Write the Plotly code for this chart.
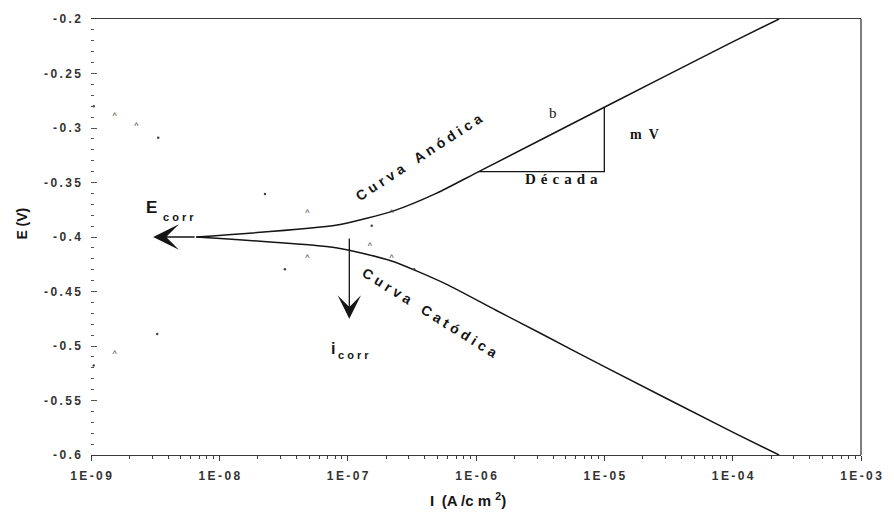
import math
import plotly.graph_objects as go

# Polarization branches: current density (A/cm²) and potential (V)
anodic_i = [6.6e-9, 8.3e-8, 2.28e-7, 4.9e-7, 1.05e-6, 1.0e-5, 1.0e-4, 2.3e-4]
anodic_e = [-0.400, -0.389, -0.376, -0.360, -0.340, -0.281, -0.221, -0.200]

cathodic_i = [6.6e-9, 8.3e-8, 2.2e-7, 5.8e-7, 1.42e-6, 3.26e-6, 1.0e-5, 1.0e-4, 2.3e-4]
cathodic_e = [-0.400, -0.410, -0.422, -0.443, -0.467, -0.489, -0.519, -0.579, -0.600]

# Scattered raw readings near the corrosion potential
caret_i = [1.53e-9, 2.26e-9, 1.53e-9, 4.86e-8, 2.2e-7, 4.86e-8, 1.49e-7, 2.2e-7]
caret_e = [-0.290, -0.299, -0.508, -0.379, -0.379, -0.4195, -0.4086, -0.4195]
dot_i = [1.05e-9, 3.34e-9, 3.28e-9, 1.05e-9, 2.27e-8, 1.54e-7, 3.24e-8, 3.3e-7]
dot_e = [-0.280, -0.309, -0.489, -0.518, -0.3605, -0.3896, -0.4295, -0.4295]

# Tafel slope construction: one decade of current vs. mV rise
tafel_i = [1.05e-6, 1.0e-5, 1.0e-5]
tafel_e = [-0.340, -0.340, -0.281]

# Corrosion potential / current markers
e_corr = -0.400
e_corr_from, e_corr_to = 6.6e-9, 3.05e-9
i_corr = 1.03e-7
i_corr_from, i_corr_to = -0.400, -0.475

# Axis ticks
x_tickvals = [1e-9, 1e-8, 1e-7, 1e-6, 1e-5, 1e-4, 1e-3]
x_ticklabels = ["1E-09", "1E-08", "1E-07", "1E-06", "1E-05", "1E-04", "1E-03"]
y_tickvals = [-0.6, -0.55, -0.5, -0.45, -0.4, -0.35, -0.3, -0.25, -0.2]
y_ticklabels = ["-0.6", "-0.55", "-0.5", "-0.45", "-0.4", "-0.35", "-0.3", "-0.25", "-0.2"]

THIN = "\u2009"


def spaced(s, sep=THIN):
    return sep.join(s)


SANS = "Liberation Sans, Arial, sans-serif"
SERIF = "Liberation Serif, Times New Roman, serif"
INK = "#151515"
AXIS = "#3a3a3a"

fig = go.Figure()

fig.add_trace(go.Scatter(x=anodic_i, y=anodic_e, mode="lines",
                         line=dict(color=INK, width=1.5, shape="spline", smoothing=0.6),
                         hoverinfo="skip"))
fig.add_trace(go.Scatter(x=cathodic_i, y=cathodic_e, mode="lines",
                         line=dict(color=INK, width=1.5, shape="spline", smoothing=0.6),
                         hoverinfo="skip"))
fig.add_trace(go.Scatter(x=tafel_i, y=tafel_e, mode="lines",
                         line=dict(color=INK, width=1.3), hoverinfo="skip"))
fig.add_trace(go.Scatter(x=caret_i, y=caret_e, mode="text", text=["^"] * len(caret_i),
                         textfont=dict(family=SANS, size=9, color="#444444"),
                         hoverinfo="skip"))
fig.add_trace(go.Scatter(x=dot_i, y=dot_e, mode="markers",
                         marker=dict(color="#444444", size=2.5), hoverinfo="skip"))

lg = math.log10
annotations = [
    # E_corr arrow
    dict(x=lg(e_corr_to), y=e_corr, ax=lg(e_corr_from), ay=e_corr,
         xref="x", yref="y", axref="x", ayref="y", text="", showarrow=True,
         arrowhead=3, arrowsize=3.3, arrowwidth=1.3, arrowcolor=INK),
    # i_corr arrow
    dict(x=lg(i_corr), y=i_corr_to, ax=lg(i_corr), ay=i_corr_from,
         xref="x", yref="y", axref="x", ayref="y", text="", showarrow=True,
         arrowhead=3, arrowsize=3.0, arrowwidth=1.3, arrowcolor=INK),
    dict(x=-8.530, y=-0.3733, xref="x", yref="y", text="<b>E</b>", showarrow=False,
         font=dict(family=SANS, size=17, color=INK)),
    dict(x=-8.322, y=-0.3814, xref="x", yref="y", text="<b>c o r r</b>", showarrow=False,
         font=dict(family=SANS, size=11, color=INK)),
    dict(x=-7.112, y=-0.502, xref="x", yref="y", text="<b>i</b>", showarrow=False,
         font=dict(family=SANS, size=16, color=INK)),
    dict(x=-6.955, y=-0.5084, xref="x", yref="y", text="<b>c o r r</b>", showarrow=False,
         font=dict(family=SANS, size=11, color=INK)),
    dict(x=-6.445, y=-0.3265, xref="x", yref="y",
         text="<b>C u r v a\u2003A n ó d i c a</b>", showarrow=False, textangle=-33,
         font=dict(family=SANS, size=14, color=INK)),
    dict(x=-6.355, y=-0.4694, xref="x", yref="y",
         text="<b>C u r v a\u2003C a t ó d i c a</b>", showarrow=False, textangle=32,
         font=dict(family=SANS, size=14, color=INK)),
    dict(x=-5.40, y=-0.2860, xref="x", yref="y", text="b", showarrow=False,
         font=dict(family=SERIF, size=15, color=INK)),
    dict(x=-4.69, y=-0.3055, xref="x", yref="y", text="<b>m\u2002V</b>", showarrow=False,
         font=dict(family=SERIF, size=14, color=INK)),
    dict(x=-5.335, y=-0.3465, xref="x", yref="y",
         text="<b>" + spaced("Década", "\u2004") + "</b>", showarrow=False,
         font=dict(family=SERIF, size=15, color=INK)),
    # axis titles
    dict(x=-0.090, y=0.53, xref="paper", yref="paper", text="<b>E (V)</b>",
         xanchor="center", yanchor="middle",
         showarrow=False, textangle=-90, font=dict(family=SANS, size=14, color=INK)),
    dict(x=0.489, y=-0.101, xref="paper", yref="paper",
         xanchor="center", yanchor="middle",
         text="<b>I\u2002(A /c m <sup>2</sup>)</b>", showarrow=False,
         font=dict(family=SANS, size=15, color=INK)),
]

fig.update_layout(
    width=894, height=514, autosize=False,
    margin=dict(l=91, r=24, t=14, b=59),
    paper_bgcolor="white", plot_bgcolor="white",
    showlegend=False,
    annotations=annotations,
    shapes=[dict(type="line", xref="paper", yref="paper", x0=1, x1=1, y0=0, y1=1,
                 line=dict(color=AXIS, width=1.3))],
)

fig.update_xaxes(
    type="log", range=[-9, -3],
    showgrid=False, zeroline=False,
    showline=True, mirror=True, linecolor=AXIS, linewidth=1.3,
    tickvals=x_tickvals, ticktext=[spaced(t) for t in x_ticklabels],
    ticks="outside", ticklen=5, tickcolor=AXIS, tickwidth=1,
    minor=dict(ticks="outside", ticklen=3, tickcolor=AXIS, dtick="D1", showgrid=False),
    tickfont=dict(family=SANS, size=12, color="#333333", weight="bold"),
    ticklabelstandoff=4,
)

fig.update_yaxes(
    range=[-0.6, -0.2],
    showgrid=False, zeroline=False, showline=False,
    tickvals=y_tickvals, ticktext=[spaced(t) for t in y_ticklabels],
    ticks="inside", ticklen=6, tickcolor="#555555", tickwidth=1,
    minor=dict(ticks="inside", ticklen=3, tickcolor="#555555", dtick=0.01, showgrid=False),
    tickfont=dict(family=SANS, size=12, color="#333333", weight="bold"),
    ticklabelstandoff=9,
)

fig.write_html("out.html")
